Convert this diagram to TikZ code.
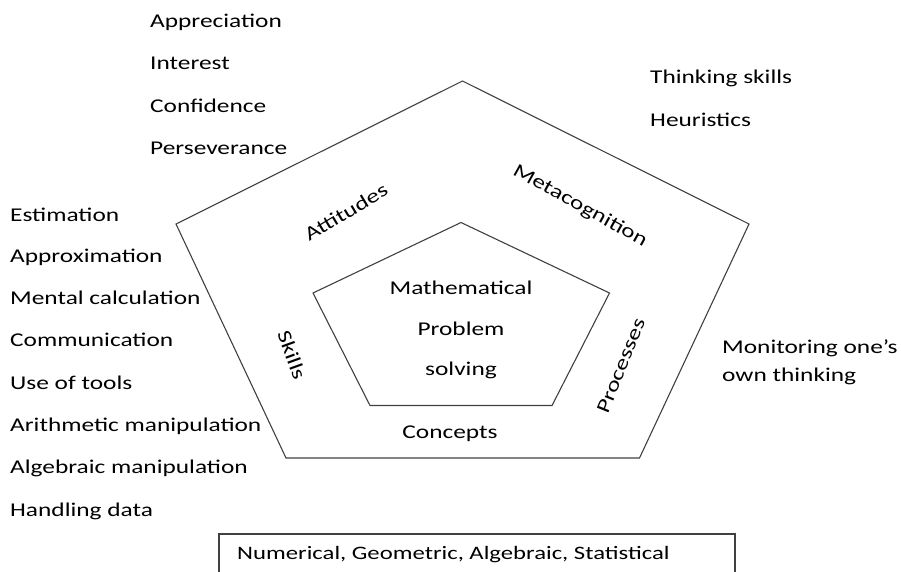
\documentclass[tikz,border=0pt]{standalone}
\usepackage{fontspec}
\setmainfont{Carlito}[FakeStretch=1.3]
\begin{document}
\begin{tikzpicture}[x=1pt,y=-1pt,
  lbl/.style={font=\fontsize{19.5}{22}\selectfont, inner sep=0pt, anchor=base west},
  clbl/.style={font=\fontsize{19.5}{22}\selectfont, inner sep=0pt},
  edge/.style={draw=black!75, line width=1.1pt, line join=miter}]
\useasboundingbox (0,0) rectangle (901,571);
\begin{scope}
\clip (0,0) rectangle (901,571);
% outer pentagon
\coordinate (o1) at (462.5,81);
\coordinate (o2) at (749,224);
\coordinate (o3) at (639.5,458);
\coordinate (o4) at (286,458);
\coordinate (o5) at (176,224);
\draw[edge] (o1) -- (o2) -- (o3) -- (o4) -- (o5) -- cycle;
% inner pentagon
\coordinate (i1) at (461,222.5);
\coordinate (i2) at (609.5,293);
\coordinate (i3) at (552,405.5);
\coordinate (i4) at (370,405.5);
\coordinate (i5) at (313,293);
\draw[edge] (i1) -- (i2) -- (i3) -- (i4) -- (i5) -- cycle;
% bottom box
\draw[edge] (219,580) |- (735,534) -- (735,580);
\end{scope}
% top-left list
\node[lbl] (appr) at (150,27) {Appreciation};
\node[lbl] (inte) at (150,69.5) {Interest};
\node[lbl] (conf) at (150,112) {Confidence};
\node[lbl] (pers) at (150,154.5) {Perseverance};
% left list
\node[lbl] (esti) at (10,221) {Estimation};
\node[lbl] (appx) at (10,262.5) {Approximation};
\node[lbl] (ment) at (10,304) {Mental calculation};
\node[lbl] (comm) at (10,346) {Communication};
\node[lbl] (tool) at (10,389) {Use of tools};
\node[lbl] (arit) at (10,431.5) {Arithmetic manipulation};
\node[lbl] (alge) at (10,473) {Algebraic manipulation};
\node[lbl] (hand) at (10,516) {Handling data};
% right lists
\node[lbl] (thin) at (650,83) {Thinking skills};
\node[lbl] (heur) at (650,126) {Heuristics};
\node[lbl] (moni) at (722,353) {Monitoring one’s};
\node[lbl] (ownt) at (722,381) {own thinking};
% center
\node[clbl] (math) at (461,288) {Mathematical};
\node[clbl] (prob) at (461,329) {Problem};
\node[clbl] (solv) at (461,370) {solving};
% sides
\node[clbl, rotate=31] (atti) at (346,212) {Attitudes};
\node[clbl, rotate=-29] (meta) at (580,206) {Metacognition};
\node[clbl, rotate=-70] (skil) at (292,355) {Skills};
\node[clbl, rotate=68] (proc) at (621,366) {Processes};
\node[clbl] (conc) at (450,434) {Concepts};
% box text
\node[lbl, font=\fontsize{19}{22}\selectfont] (nume) at (237,559) {Numerical, Geometric, Algebraic, Statistical};
\end{tikzpicture}
\end{document}
